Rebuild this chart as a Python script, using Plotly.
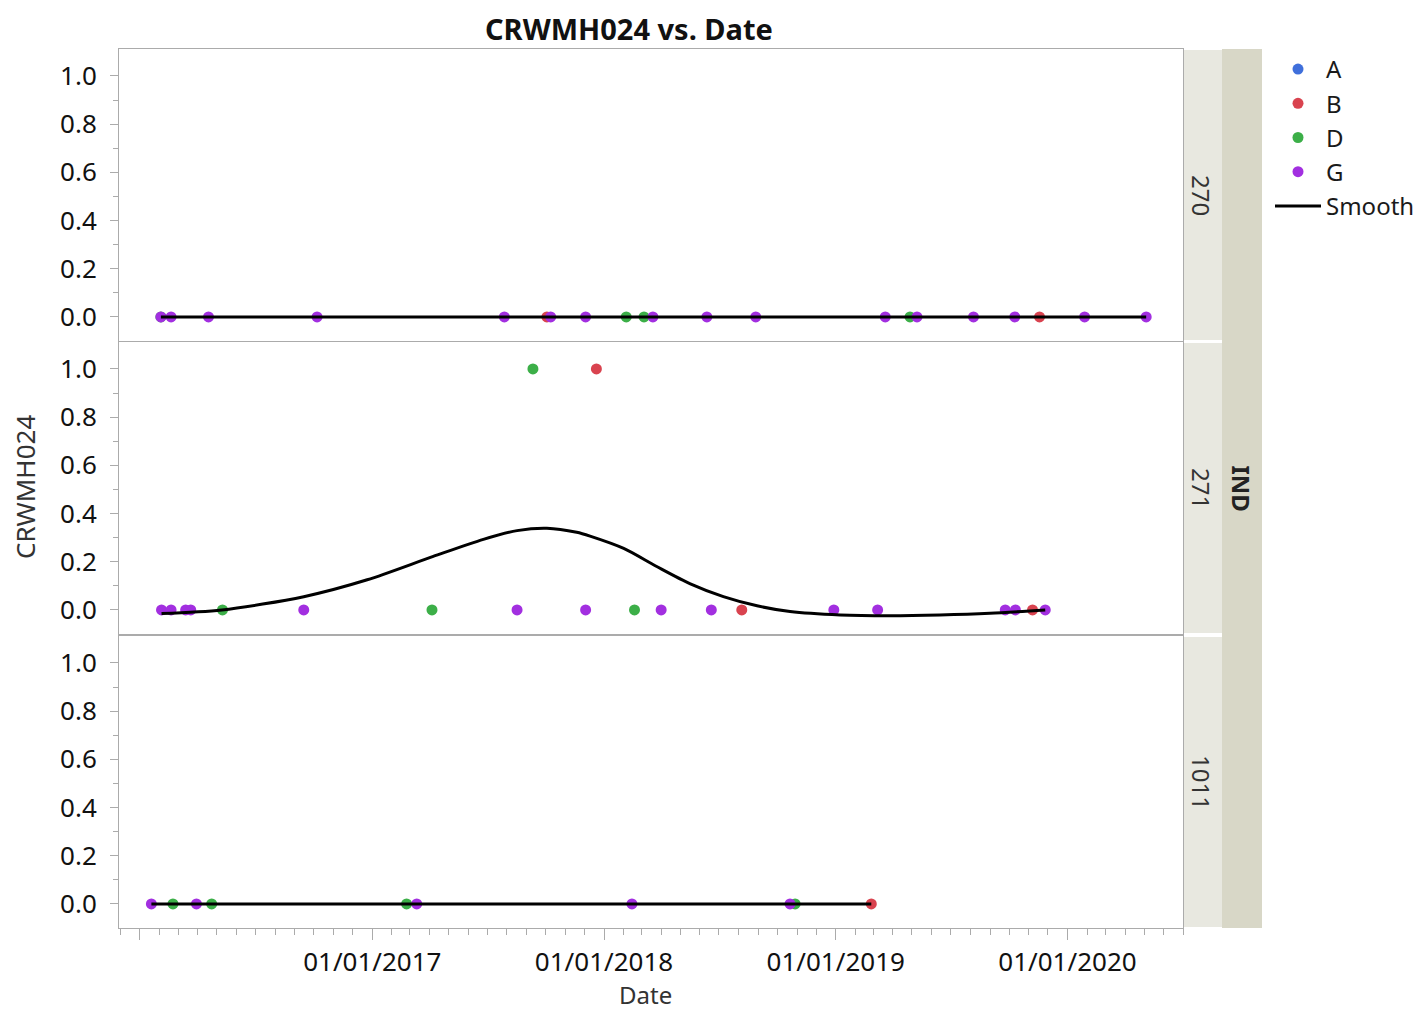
import plotly.graph_objects as go

# ---------------- data ----------------
panel_labels = ["270", "271", "1011"]

dates_270 = ["2016-02-03", "2016-02-03", "2016-02-19", "2016-04-18", "2016-10-06",
             "2017-07-28", "2017-10-03", "2017-10-09", "2017-12-03", "2018-02-05",
             "2018-03-05", "2018-03-19", "2018-06-12", "2018-08-28", "2019-03-20",
             "2019-04-28", "2019-05-09", "2019-08-06", "2019-10-10", "2019-11-18",
             "2020-01-28", "2020-05-04"]
vals_270 = [0] * 22
grp_270 = ["D", "G", "G", "G", "G",
           "G", "B", "G", "G", "D",
           "D", "G", "G", "G", "G",
           "D", "G", "G", "G", "B",
           "G", "G"]

dates_271 = ["2016-02-04", "2016-02-19", "2016-03-13", "2016-03-21", "2016-05-10",
             "2016-09-15", "2017-04-05", "2017-08-17", "2017-09-11", "2017-12-03",
             "2017-12-20", "2018-02-18", "2018-04-01", "2018-06-19", "2018-08-06",
             "2018-12-29", "2019-03-08", "2019-09-25", "2019-10-11", "2019-11-07",
             "2019-11-27"]
vals_271 = [0, 0, 0, 0, 0,
            0, 0, 0, 1, 0,
            1, 0, 0, 0, 0,
            0, 0, 0, 0, 0,
            0]
grp_271 = ["G", "G", "G", "G", "D",
           "G", "D", "G", "D", "G",
           "B", "D", "G", "G", "B",
           "G", "G", "G", "G", "B",
           "G"]

dates_1011 = ["2016-01-19", "2016-02-22", "2016-03-30", "2016-04-23", "2017-02-24",
              "2017-03-12", "2018-02-14", "2018-10-21", "2018-10-29", "2019-02-26"]
vals_1011 = [0] * 10
grp_1011 = ["G", "D", "G", "D", "D",
            "G", "G", "G", "D", "B"]

# smoother curves
smooth_270_x = ["2016-02-03", "2020-05-04"]
smooth_270_y = [0, 0]
smooth_271_x = ["2016-02-04", "2016-05-09", "2016-09-15", "2016-12-24", "2017-04-07",
                "2017-06-25", "2017-08-17", "2017-10-03", "2017-11-19", "2017-12-10",
                "2018-02-01", "2018-03-25", "2018-05-17", "2018-07-08", "2018-08-30",
                "2018-10-21", "2019-01-08", "2019-03-27", "2019-06-14", "2019-09-01",
                "2019-11-27"]
smooth_271_y = [-0.015, 0.0, 0.055, 0.125, 0.222,
                0.293, 0.329, 0.339, 0.322, 0.306,
                0.255, 0.18, 0.108, 0.055, 0.017,
                -0.007, -0.021, -0.024, -0.021, -0.014,
                0.0]
smooth_1011_x = ["2016-01-19", "2019-02-26"]
smooth_1011_y = [0, 0]

groups = ["A", "B", "D", "G"]
group_colors = {"A": "#3F6FDB", "B": "#D9434F", "D": "#3CAF48", "G": "#A22FE0"}

x_tickvals = ["2016-01-01", "2017-01-01", "2018-01-01", "2019-01-01", "2020-01-01"]
x_ticktext = ["", "01/01/2017", "01/01/2018", "01/01/2019", "01/01/2020"]
y_tickvals = [0.0, 0.2, 0.4, 0.6, 0.8, 1.0]
y_minorvals = [0.1, 0.3, 0.5, 0.7, 0.9]

# ---------------- figure ----------------
OFF = 8  # page body margin
W, H = 1423 - OFF, 1012 - OFF
L, R, T, B = 119 - OFF, 1183 - OFF, 49 - OFF, 928 - OFF
pw, ph = R - L, B - T

def px_x(p):
    return (p - OFF - L) / pw

def px_y(p):
    return (B - (p - OFF)) / ph

panel_px = [(49, 341), (342, 634), (636, 928)]
domains = [[px_y(b), px_y(t)] for (t, b) in panel_px]

panels = [
    (dates_270, vals_270, grp_270, smooth_270_x, smooth_270_y),
    (dates_271, vals_271, grp_271, smooth_271_x, smooth_271_y),
    (dates_1011, vals_1011, grp_1011, smooth_1011_x, smooth_1011_y),
]

fig = go.Figure()
FONT = "Noto Sans, Open Sans, sans-serif"

shown = set()
for i, (ds, vs, gs, sx, sy) in enumerate(panels):
    xa = "x" if i == 0 else f"x{i+1}"
    ya = "y" if i == 0 else f"y{i+1}"
    for g in groups:
        xs = [d for d, gg in zip(ds, gs) if gg == g]
        ys = [v for v, gg in zip(vs, gs) if gg == g]
        if not xs:
            if g == "A" and g not in shown:
                xs, ys = [None], [None]
            else:
                continue
        fig.add_trace(go.Scatter(
            x=xs, y=ys, mode="markers", name=g, legendgroup=g,
            showlegend=g not in shown,
            marker=dict(color=group_colors[g], size=11),
            xaxis=xa, yaxis=ya))
        shown.add(g)
    fig.add_trace(go.Scatter(
        x=sx, y=sy, mode="lines", name="Smooth", legendgroup="Smooth",
        showlegend=(i == 0),
        line=dict(color="black", width=3, shape="spline", smoothing=0.8),
        xaxis=xa, yaxis=ya))

xrange = ["2015-11-29", "2020-07-01"]
axis_col = "#ABABAB"
layout = dict(
    width=W, height=H,
    margin=dict(l=L, r=W - R, t=T, b=H - B, autoexpand=False),
    paper_bgcolor="white", plot_bgcolor="white",
    font=dict(family=FONT, size=24, color="#1a1a1a"),
    showlegend=True,
    legend=dict(x=px_x(1270), y=px_y(47), xanchor="left", yanchor="top",
                font=dict(size=24, family=FONT), tracegroupgap=0,
                itemwidth=46, bgcolor="rgba(0,0,0,0)"),
)
for i in range(3):
    xk = "xaxis" if i == 0 else f"xaxis{i+1}"
    yk = "yaxis" if i == 0 else f"yaxis{i+1}"
    ya = "y" if i == 0 else f"y{i+1}"
    xd = dict(type="date", range=xrange, domain=[0, 1], anchor=ya,
              showgrid=False, zeroline=False, showline=True, mirror=True,
              linecolor=axis_col, linewidth=1)
    if i > 0:
        xd["matches"] = "x"
    if i == 2:
        xd.update(tickmode="array", tickvals=x_tickvals, ticktext=x_ticktext,
                  ticks="outside", ticklen=11, tickcolor=axis_col,
                  tickfont=dict(size=26, color="#111"),
                  minor=dict(dtick="M1", tick0="2016-01-01", ticks="outside",
                             ticklen=6, tickcolor=axis_col, showgrid=False))
    else:
        xd.update(showticklabels=False, ticks="")
    layout[xk] = xd
    layout[yk] = dict(range=[-0.1, 1.112], domain=domains[i],
                      anchor="x" if i == 0 else f"x{i+1}",
                      tickmode="array", tickvals=y_tickvals,
                      ticktext=[f"{v:.1f}" for v in y_tickvals],
                      ticks="outside", ticklen=8, tickcolor=axis_col,
                      ticklabelstandoff=8,
                      tickfont=dict(size=26, color="#111"),
                      minor=dict(tickmode="array", tickvals=y_minorvals,
                                 ticks="outside", ticklen=5, tickcolor=axis_col,
                                 showgrid=False),
                      showgrid=False, zeroline=False, showline=True, mirror=True,
                      linecolor=axis_col, linewidth=1)

fig.update_layout(**layout)

shapes = []
annotations = []
# strips
for i, (t, b) in enumerate(panel_px):
    shapes.append(dict(type="rect", xref="paper", yref="paper",
                       x0=px_x(1184), x1=px_x(1222), y0=px_y(b - 1), y1=px_y(t + 1),
                       fillcolor="#E8E8E0", line=dict(width=0), layer="below"))
    annotations.append(dict(text=panel_labels[i], xref="paper", yref="paper",
                            x=px_x(1202), y=(px_y(t) + px_y(b)) / 2,
                            xanchor="center", yanchor="middle",
                            showarrow=False, textangle=90,
                            font=dict(size=24, color="#333", family=FONT)))
shapes.append(dict(type="rect", xref="paper", yref="paper",
                   x0=px_x(1222), x1=px_x(1262), y0=px_y(928), y1=px_y(49),
                   fillcolor="#D8D7C7", line=dict(width=0), layer="below"))
annotations.append(dict(text="<b>IND</b>", xref="paper", yref="paper",
                        x=px_x(1241), y=(px_y(49) + px_y(928)) / 2,
                        xanchor="center", yanchor="middle",
                        showarrow=False, textangle=90,
                        font=dict(size=24, color="#222", family=FONT)))
# titles
annotations.append(dict(text="<b>CRWMH024 vs. Date</b>", xref="paper", yref="paper",
                        x=px_x(629), y=px_y(28), xanchor="center", yanchor="middle",
                        showarrow=False, borderpad=0,
                        font=dict(size=29, color="#111", family=FONT)))
annotations.append(dict(text="CRWMH024", xref="paper", yref="paper",
                        x=px_x(25), y=px_y(487), xanchor="center", yanchor="middle",
                        showarrow=False, textangle=-90,
                        font=dict(size=26, color="#333", family=FONT)))
annotations.append(dict(text="Date", xref="paper", yref="paper",
                        x=px_x(645), y=px_y(994), xanchor="center", yanchor="middle",
                        showarrow=False, borderpad=0,
                        font=dict(size=24, color="#333", family=FONT)))
fig.update_layout(shapes=shapes, annotations=annotations)

fig.write_html("out.html")
